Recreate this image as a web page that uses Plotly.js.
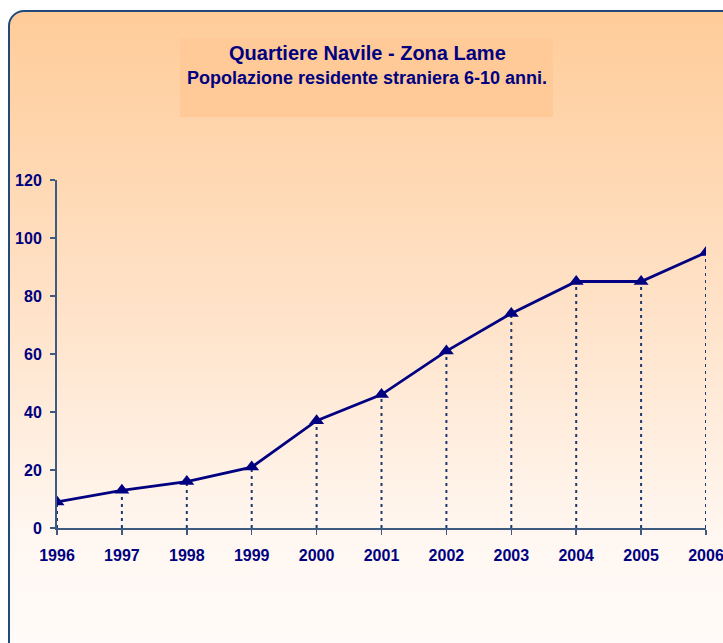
<!DOCTYPE html>
<html>
<head>
<meta charset="utf-8">
<script src="https://cdn.plot.ly/plotly-3.0.1.min.js"></script>
<style>
  html, body { margin: 0; padding: 0; width: 723px; height: 643px; overflow: hidden; background: #ffffff; }
  #frame { position: absolute; left: 8px; top: 10px; width: 740px; height: 660px;
    border: 2px solid #1F4A7A; border-radius: 16px; box-sizing: border-box;
    background: linear-gradient(to bottom, #FFCC99 0%, #FFE2C8 45%, #FFF7F1 80%, #FFFCFA 100%); }
  #chart { position: absolute; left: 0; top: 0; width: 760px; height: 643px; }
</style>
</head>
<body>
<div id="frame"></div>
<div id="chart"></div>
<script>
const years = [1996, 1997, 1998, 1999, 2000, 2001, 2002, 2003, 2004, 2005, 2006];
const values = [9, 13, 16, 21, 37, 46, 61, 74, 85, 85, 95];
const yTicks = [0, 20, 40, 60, 80, 100, 120];
const titleText = "Quartiere Navile - Zona Lame";
const subtitleText = "Popolazione residente straniera 6-10 anni.";

const dropX = [], dropY = [];
years.forEach((yr, i) => { dropX.push(yr, yr, null); dropY.push(0, values[i], null); });

const traces = [
  { x: dropX, y: dropY, mode: 'lines', type: 'scatter', hoverinfo: 'skip',
    line: { color: '#1F3A6E', width: 2, dash: '3px,4px' }, showlegend: false },
  { x: years, y: values, mode: 'lines+markers', type: 'scatter',
    line: { color: '#000080', width: 2.8 },
    marker: { symbol: 'triangle-up', size: 13, color: '#000080' }, showlegend: false }
];

const tickFont = { family: 'Liberation Sans, Arial, sans-serif', size: 16, color: '#000080', weight: 'bold' };

const layout = {
  width: 760, height: 643,
  margin: { l: 57, r: 54, t: 180, b: 115 },
  paper_bgcolor: 'rgba(0,0,0,0)',
  plot_bgcolor: 'rgba(0,0,0,0)',
  xaxis: {
    range: [1996, 2006], tickvals: years, ticktext: years.map(String),
    showgrid: false, zeroline: false, showline: true, linecolor: '#3D5A80', linewidth: 2,
    ticks: 'outside', ticklen: 5, tickcolor: '#3D5A80', tickwidth: 1.5,
    tickfont: tickFont, ticklabelstandoff: 7
  },
  yaxis: {
    range: [0, 120], tickvals: yTicks, ticktext: yTicks.map(String),
    showgrid: false, zeroline: false, showline: true, linecolor: '#3D5A80', linewidth: 2,
    ticks: 'outside', ticklen: 5, tickcolor: '#3D5A80', tickwidth: 1.5,
    tickfont: tickFont, ticklabelstandoff: 5
  },
  shapes: [
    { type: 'rect', xref: 'paper', yref: 'paper', layer: 'below',
      x0: (180 - 57) / 649, x1: (553 - 57) / 649,
      y0: (528 - 117) / 348, y1: (528 - 38) / 348,
      fillcolor: '#FFCA98', line: { width: 0 } }
  ],
  annotations: [
    { text: '<b>' + titleText + '</b>', xref: 'paper', yref: 'paper', showarrow: false,
      x: (367 - 57) / 649, y: (528 - 53) / 348, xanchor: 'center', yanchor: 'middle',
      font: { family: 'Liberation Sans, Arial, sans-serif', size: 20, color: '#000080' } },
    { text: '<b>' + subtitleText + '</b>', xref: 'paper', yref: 'paper', showarrow: false,
      x: (367 - 57) / 649, y: (528 - 78) / 348, xanchor: 'center', yanchor: 'middle',
      font: { family: 'Liberation Sans, Arial, sans-serif', size: 18, color: '#000080' } }
  ]
};

Plotly.newPlot('chart', traces, layout, { displayModeBar: false, staticPlot: true });
</script>
</body>
</html>
